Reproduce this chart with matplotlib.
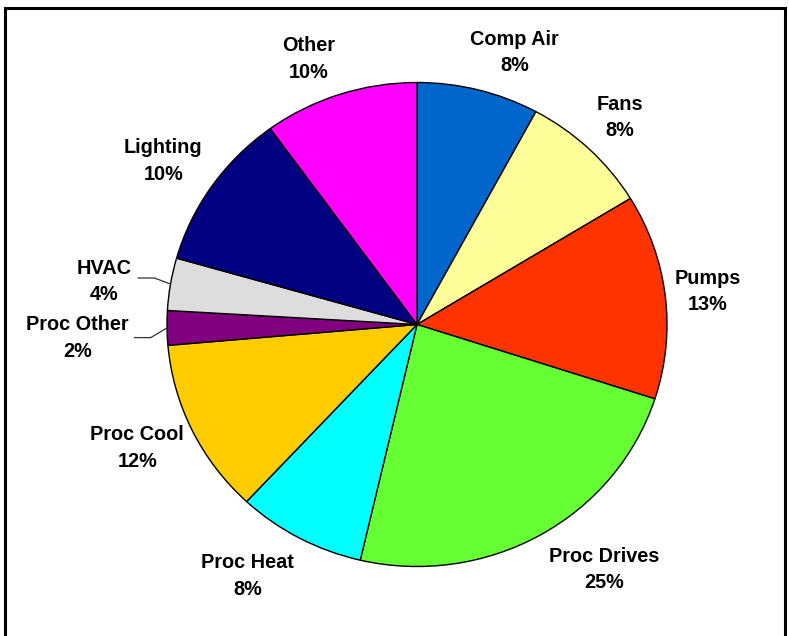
import numpy as np
import matplotlib
matplotlib.use("Agg")
import matplotlib.pyplot as plt
from matplotlib.lines import Line2D

# end uses, clockwise from 12 o'clock
categories = ["Comp Air", "Fans", "Pumps", "Proc Drives", "Proc Heat",
              "Proc Cool", "Proc Other", "HVAC", "Lighting", "Other"]
# slice sizes as drawn in the picture (percent)
shares = [7.9, 8.4, 13.7, 23.7, 8.3, 11.7, 2.3, 3.5, 10.6, 10.0]
# percent labels as printed on the chart
pct_labels = ["8%", "8%", "13%", "25%", "8%", "12%", "2%", "4%", "10%", "10%"]

colors = ["#0066CC", "#FFFF99", "#FF3300", "#66FF33", "#00FFFF",
          "#FFCC00", "#800080", "#DDDDDD", "#000080", "#FF00FF"]

# label placement: radius from centre and small angle nudge (deg)
label_r = [1.19, 1.18, 1.17, 1.26, 1.24, 1.23, 1.36, 1.265, 1.22, 1.18]
label_nudge = [-5, 0, 0, 7, -5, -1.5, 1.5, 1.5, 1.3, 3.5]
leader = {"Proc Other", "HVAC"}

W, H = 789, 636
fig = plt.figure(figsize=(W / 100, H / 100), dpi=100)
ax = fig.add_axes([0, 0, 1, 1])

wedges, _ = ax.pie(shares, colors=colors, startangle=90, counterclock=False,
                   wedgeprops=dict(edgecolor="black", linewidth=1.0))

# pie is slightly wider than tall in the reference
cx, cy, rx, ry = 417, 324.5, 250, 242
ax.set_aspect("auto")
ax.set_xlim(-cx / rx, (W - cx) / rx)
ax.set_ylim(-(H - cy) / ry, cy / ry)
ax.axis("off")

font = dict(family=["Liberation Sans", "DejaVu Sans"], weight="bold",
            size=14.3, color="black")

for w, name, pct, r, nd in zip(wedges, categories, pct_labels, label_r, label_nudge):
    mid = np.deg2rad((w.theta1 + w.theta2) / 2)
    ang = mid + np.deg2rad(nd)
    tx, ty = r * np.cos(ang), r * np.sin(ang)
    ax.text(tx, ty, f"{name}\n{pct}", ha="center", va="center",
            linespacing=1.5, **font)
    if name in leader:
        # elbow leader line from the slice edge to the label
        x0, y0 = np.cos(mid), np.sin(mid)
        x1 = 1.065 * np.cos(mid)
        y1 = y0 + (0.025 if y0 > 0 else -0.04)
        x2 = x1 - 0.065
        ax.add_line(Line2D([x0, x1, x2], [y0, y1, y1], color="#333333",
                           linewidth=0.9))

# chart frame
fig.add_artist(Line2D([5 / W, 5 / W], [0, 1 - 8 / H], color="black",
                      linewidth=2.2, transform=fig.transFigure))
fig.add_artist(Line2D([5 / W, 785 / W], [1 - 8 / H, 1 - 8 / H], color="black",
                      linewidth=2.2, transform=fig.transFigure))
fig.add_artist(Line2D([785 / W, 785 / W], [0, 1 - 8 / H], color="black",
                      linewidth=2.2, transform=fig.transFigure))

fig.savefig("out.png", dpi=100)
